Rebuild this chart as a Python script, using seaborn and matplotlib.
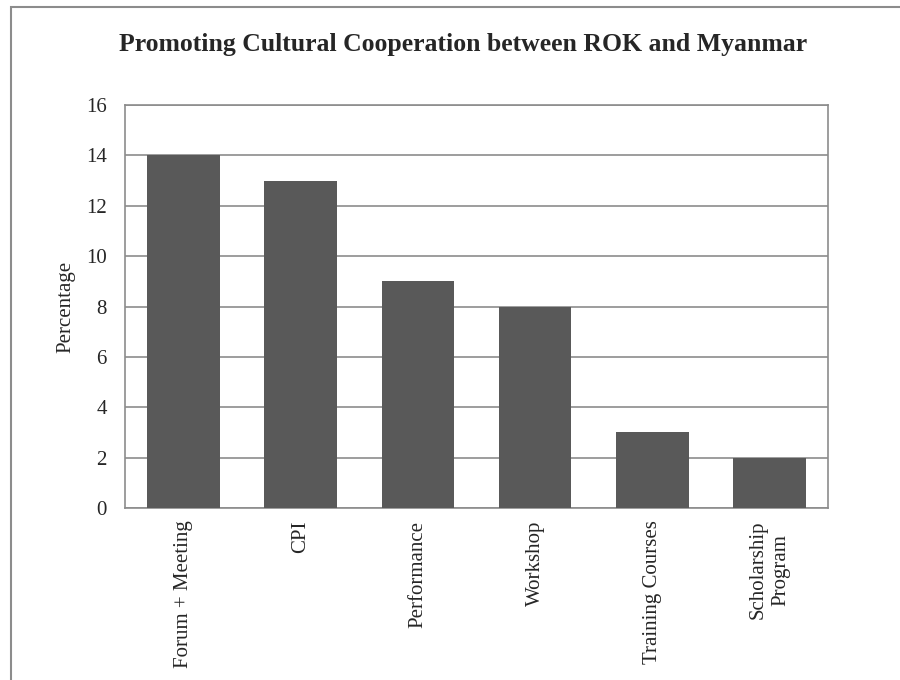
import matplotlib.pyplot as plt
import matplotlib.patches as mpatches
import seaborn as sns
import pandas as pd

sns.set_style("white")
plt.rcParams['font.family'] = ['Liberation Serif', 'DejaVu Serif']

categories = ["Forum + Meeting", "CPI", "Performance", "Workshop",
              "Training Courses", "Scholarship\nProgram"]
values = [14, 13, 9, 8, 3, 2]

df = pd.DataFrame({"category": categories, "value": values})

fig = plt.figure(figsize=(9, 6.8), dpi=100)
ax = fig.add_axes([125/900, 1 - 508/680, 703/900, 403/680])

sns.barplot(data=df, x="category", y="value", color="#595959",
            saturation=1, width=0.62, linewidth=0, ax=ax, zorder=3)

ax.set_ylim(0, 16)
ax.set_yticks(range(0, 17, 2))
ax.yaxis.grid(True, color="#8c8c8c", linewidth=1.2, zorder=0)
ax.set_axisbelow(True)
for s in ax.spines.values():
    s.set_color("#8c8c8c")
    s.set_linewidth(1.2)
    s.set_visible(True)

ax.tick_params(axis="y", length=0, labelsize=15, pad=13)
ax.tick_params(axis="x", length=0, labelsize=15, pad=9)
plt.setp(ax.get_xticklabels(), rotation=90, va="top", ha="center",
         linespacing=1.25)
ax.set_xlabel("")
ax.set_ylabel("Percentage", fontsize=15, labelpad=8)

fig.suptitle("Promoting Cultural Cooperation between ROK and Myanmar",
             fontsize=18.5, fontweight="bold", x=0.514, y=1 - 45/680, va="center")

# outer border of the figure
fig.patches.append(mpatches.Rectangle((11/900, -0.1), 1.2, 1 - 7/680 + 0.1,
                                      transform=fig.transFigure, fill=False,
                                      edgecolor="#8c8c8c", linewidth=1.5))

fig.savefig("out.png", dpi=100)
